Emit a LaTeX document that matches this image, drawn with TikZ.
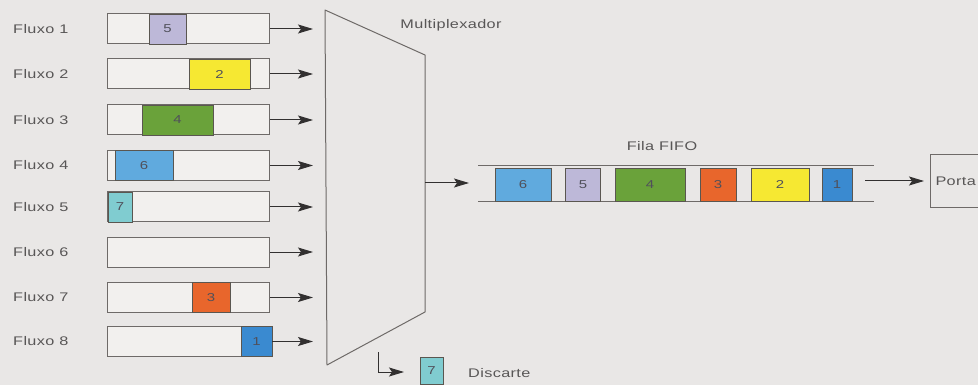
\documentclass[tikz,border=0pt]{standalone}
\usepackage{fontspec}
\setmainfont{Liberation Sans}
\newfontfamily\lblfont[FakeStretch=1.3,LetterSpace=3]{Liberation Sans}
\usetikzlibrary{arrows.meta}
\definecolor{bg}{RGB}{233,231,230}
\definecolor{barfill}{RGB}{242,240,238}
\definecolor{linegray}{RGB}{110,106,104}
\definecolor{txtgray}{RGB}{88,86,86}
\definecolor{arrgray}{RGB}{50,48,48}
\definecolor{lav}{RGB}{189,184,216}
\definecolor{yel}{RGB}{246,232,50}
\definecolor{grn}{RGB}{106,162,58}
\definecolor{blu}{RGB}{96,170,222}
\definecolor{teal}{RGB}{128,204,208}
\definecolor{org}{RGB}{232,102,44}
\definecolor{blud}{RGB}{58,138,208}
\definecolor{pktline}{RGB}{90,86,80}
\definecolor{pkttxt}{RGB}{80,80,90}
\tikzset{
  bar/.style={draw=linegray, line width=1pt, fill=barfill, minimum width=162pt, minimum height=30pt, inner sep=0pt, anchor=west},
  pkt/.style={draw=pktline, line width=0.9pt, minimum height=30pt, inner sep=0pt, font=\lblfont\fontsize{11.5}{12}\selectfont, text=pkttxt},
  fpkt/.style={pkt, minimum height=33pt},
  lbl/.style={font=\lblfont\fontsize{12.5}{14}\selectfont, text=txtgray, inner sep=0pt},
  arr/.style={draw=arrgray, line width=1pt, -{Stealth[length=15pt,width=9pt,inset=3pt]}},
}
\begin{document}
\begin{tikzpicture}[x=1pt,y=-1pt]
\clip (0,0) rectangle (978,385);
\fill[bg] (0,0) rectangle (978,385);
% flows
\foreach \i/\y in {1/29,2/74,3/120,4/165.5,5/207,6/252,7/297.5,8/341.5}{
  \node[lbl, anchor=west] (lab\i) at (13,\y) {Fluxo \i};
  \node[bar] (bar\i) at (107,\y) {};
  \coordinate (in\i) at (313,\y);
}
% packets in flows
\node[pkt, fill=lav,  minimum width=37pt] (p15) at (167.5,29) {5};
\node[pkt, fill=yel,  minimum width=61pt] (p22) at (219.5,74) {2};
\node[pkt, fill=grn,  minimum width=71pt] (p34) at (177.5,120) {4};
\node[pkt, fill=blu,  minimum width=58pt] (p46) at (144,165.5) {6};
\node[pkt, fill=teal, minimum width=24pt] (p57) at (120,207) {7};
\node[pkt, fill=org,  minimum width=38pt] (p73) at (211,297.5) {3};
\node[pkt, fill=blud, minimum width=31pt] (p81) at (256.5,341.5) {1};
% arrows to mux
\foreach \i in {1,...,7}{\draw[arr] (bar\i.east) -- (in\i);}
\draw[arr] (p81.east) -- (in8);
% multiplexer
\coordinate (mtl) at (325,10);
\coordinate (mtr) at (425,55);
\coordinate (mbr) at (425,312);
\coordinate (mbl) at (327,365);
\draw[draw=linegray, line width=1pt, line join=round] (mtl) -- (mtr) -- (mbr) -- (mbl) -- cycle;
\node[lbl] (mux) at (451,25) {Multiplexador};
\coordinate (mout) at (425,183);
\coordinate (fin) at (469,183);
\draw[arr] (mout) -- (fin);
% FIFO
\coordinate (ftl) at (478,165.5);
\coordinate (ftr) at (874,165.5);
\coordinate (fbl) at (478,202);
\coordinate (fbr) at (874,202);
\draw[linegray, line width=1pt] (ftl) -- (ftr) (fbl) -- (fbr);
\node[lbl] (fifo) at (662,146) {Fila FIFO};
\node[fpkt, fill=blu,  minimum width=56pt] (q6) at (523,184.5) {6};
\node[fpkt, fill=lav,  minimum width=35pt] (q5) at (583,184.5) {5};
\node[fpkt, fill=grn,  minimum width=70pt] (q4) at (650,184.5) {4};
\node[fpkt, fill=org,  minimum width=36pt] (q3) at (718,184.5) {3};
\node[fpkt, fill=yel,  minimum width=58pt] (q2) at (780,184.5) {2};
\node[fpkt, fill=blud, minimum width=30pt] (q1) at (837,184.5) {1};
% Porta
\node[draw=linegray, line width=1pt, anchor=west, minimum height=53pt, inner xsep=5pt,
      font=\lblfont\fontsize{12.5}{14}\selectfont, text=txtgray] (porta) at (930,181) {Porta\hspace{20pt}};
\coordinate (fout) at (865,181);
\draw[arr, shorten >=6pt] (fout) -- (porta.west);
% discard
\coordinate (dstart) at (378,352);
\coordinate (dend) at (404,372);
\draw[arr] (dstart) |- (dend);
\node[pkt, fill=teal, minimum width=23pt, minimum height=27pt] (d7) at (431.5,370.5) {7};
\node[lbl, anchor=west] (disc) at (468,373) {Discarte};
\end{tikzpicture}
\end{document}
